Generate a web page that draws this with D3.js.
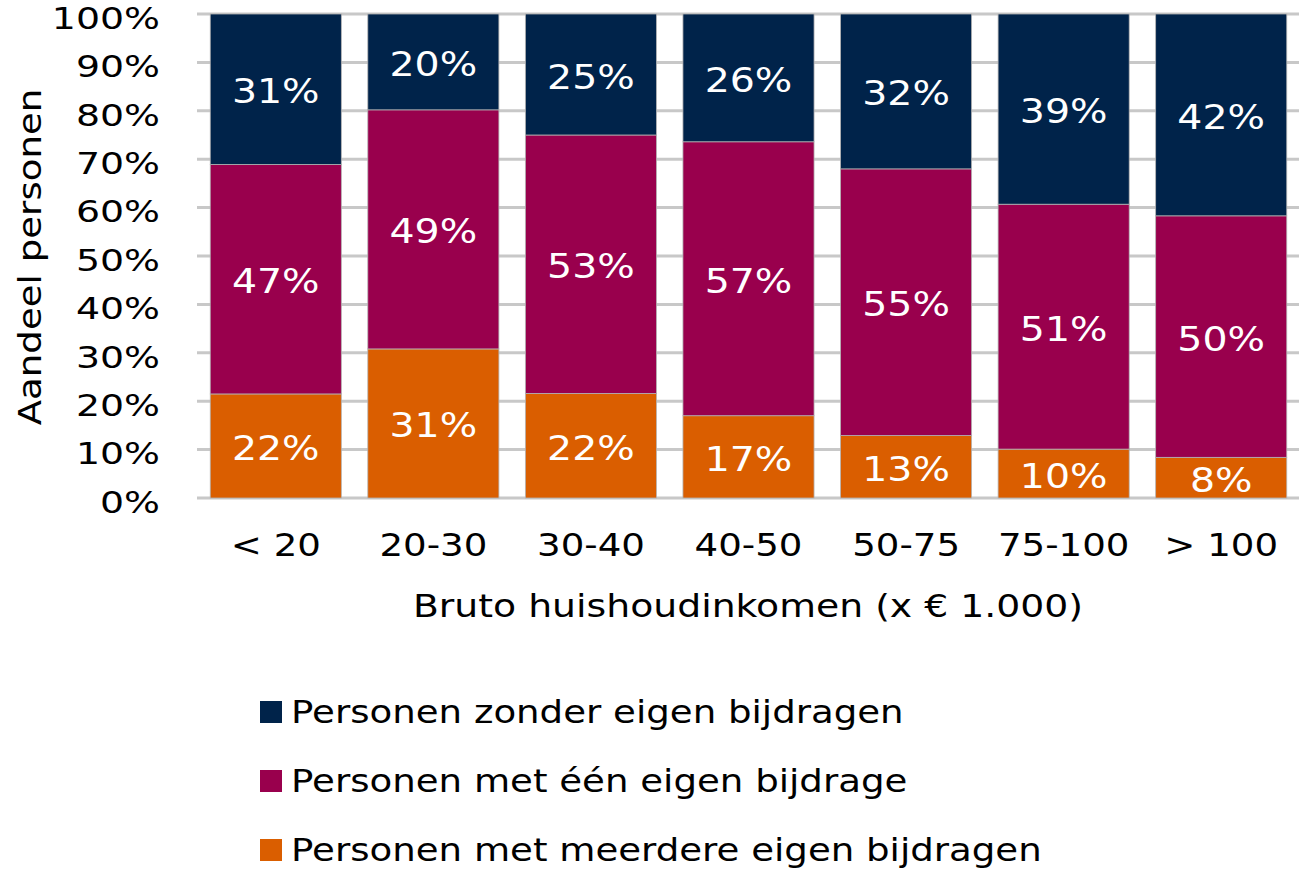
<!DOCTYPE html>
<html>
<head>
<meta charset="utf-8">
<script src="https://cdn.jsdelivr.net/npm/d3@7"></script>
<style>
  html, body { margin: 0; padding: 0; background: #fff; }
  svg { display: block; font-family: "DejaVu Sans", Verdana, sans-serif; }
</style>
</head>
<body>
<svg id="chart" width="1299" height="872"></svg>
<script>
// ---- Data ----
const categories = ["< 20", "20-30", "30-40", "40-50", "50-75", "75-100", "> 100"];
const seriesNames = [
  "Personen met meerdere eigen bijdragen",
  "Personen met één eigen bijdrage",
  "Personen zonder eigen bijdragen"
];
const meerdere = [21.5, 30.8, 21.6, 17.0, 12.9, 10.1, 8.4];
const een      = [47.4, 49.4, 53.4, 56.6, 55.1, 50.6, 49.9];
const zonder   = [31.1, 19.8, 25.0, 26.4, 32.0, 39.3, 41.7];
const yTicks = [0, 10, 20, 30, 40, 50, 60, 70, 80, 90, 100];
const colors = ["#da5e00", "#99004d", "#00234a"];
const legendOrder = [2, 1, 0];

// ---- Layout ----
const svg = d3.select("#chart");
const plot = { left: 197, right: 1300, top: 14, bottom: 498 };

const x = d3.scaleBand().domain(categories).range([plot.left, plot.right])
  .paddingInner(0.168).paddingOuter(0.084);
const y = d3.scaleLinear().domain([0, 100]).range([plot.bottom, plot.top]);

const rows = categories.map((c, i) => ({ cat: c, s0: meerdere[i], s1: een[i], s2: zonder[i] }));
const stack = d3.stack().keys(["s0", "s1", "s2"]);
const stacked = stack(rows);

// widen text horizontally (reference font is rendered wider)
function stretch(sel, f) {
  sel.each(function () {
    const w = this.getComputedTextLength();
    d3.select(this).attr("textLength", w * f).attr("lengthAdjust", "spacingAndGlyphs");
  });
}

// gridlines
svg.append("g").selectAll("line").data(yTicks).join("line")
  .attr("x1", plot.left).attr("x2", 1299)
  .attr("y1", d => y(d)).attr("y2", d => y(d))
  .attr("stroke", "#c8c8c8").attr("stroke-width", 3);

// y axis labels
const yAxis = d3.axisLeft(y).tickValues(yTicks).tickFormat(d => d + "%").tickSize(0).tickPadding(0);
const gy = svg.append("g").attr("transform", `translate(160,0)`).call(yAxis);
gy.select(".domain").remove();
gy.selectAll("text").attr("font-size", 31).attr("fill", "#000")
  .attr("font-family", "DejaVu Sans, Verdana, sans-serif").attr("dy", "0.46em");
stretch(gy.selectAll("text"), 1.22);

// bars
const layers = svg.append("g").selectAll("g").data(stacked).join("g")
  .attr("fill", (d, i) => colors[i]);
layers.selectAll("rect").data(d => d).join("rect")
  .attr("x", d => x(d.data.cat))
  .attr("width", x.bandwidth())
  .attr("y", d => y(d[1]))
  .attr("height", d => y(d[0]) - y(d[1]))
  .attr("stroke", "#b4b4b4").attr("stroke-width", 0.8);

// data labels
const labels = layers.selectAll("text").data(d => d.map(v => ({ v, key: d.key }))).join("text")
  .attr("x", d => x(d.v.data.cat) + x.bandwidth() / 2)
  .attr("y", d => (y(d.v[0]) + y(d.v[1])) / 2 + 2)
  .attr("text-anchor", "middle")
  .attr("dominant-baseline", "central")
  .attr("fill", "#fff")
  .attr("font-size", 34)
  .text(d => Math.round(d.v.data[d.key]) + "%");
stretch(labels, 1.16);

// x axis labels
const xAxis = d3.axisBottom(x).tickSize(0).tickPadding(0);
const gx = svg.append("g").attr("transform", `translate(0,533)`).call(xAxis);
gx.select(".domain").remove();
gx.selectAll("text").attr("font-size", 32).attr("fill", "#000")
  .attr("font-family", "DejaVu Sans, Verdana, sans-serif").attr("dy", "0.71em");
stretch(gx.selectAll("text"), 1.16);

// axis titles
const xt = svg.append("text").attr("x", 748).attr("y", 617).attr("text-anchor", "middle")
  .attr("font-size", 32).attr("fill", "#000").text("Bruto huishoudinkomen (x € 1.000)");
stretch(xt, 1.18);
const yt = svg.append("text").attr("transform", "translate(30,257) rotate(-90)")
  .attr("text-anchor", "middle").attr("dominant-baseline", "central")
  .attr("font-size", 32).attr("fill", "#000").text("Aandeel personen");
stretch(yt, 1.16);

// legend
const legend = svg.append("g").selectAll("g").data(legendOrder).join("g")
  .attr("transform", (d, i) => `translate(260,${712 + i * 69})`);
legend.append("rect").attr("x", 0).attr("y", -11).attr("width", 22).attr("height", 22)
  .attr("fill", d => colors[d]);
const lt = legend.append("text").attr("x", 31).attr("y", 0).attr("dominant-baseline", "central")
  .attr("font-size", 32).attr("fill", "#000").text(d => seriesNames[d]);
stretch(lt, 1.16);
</script>
</body>
</html>
